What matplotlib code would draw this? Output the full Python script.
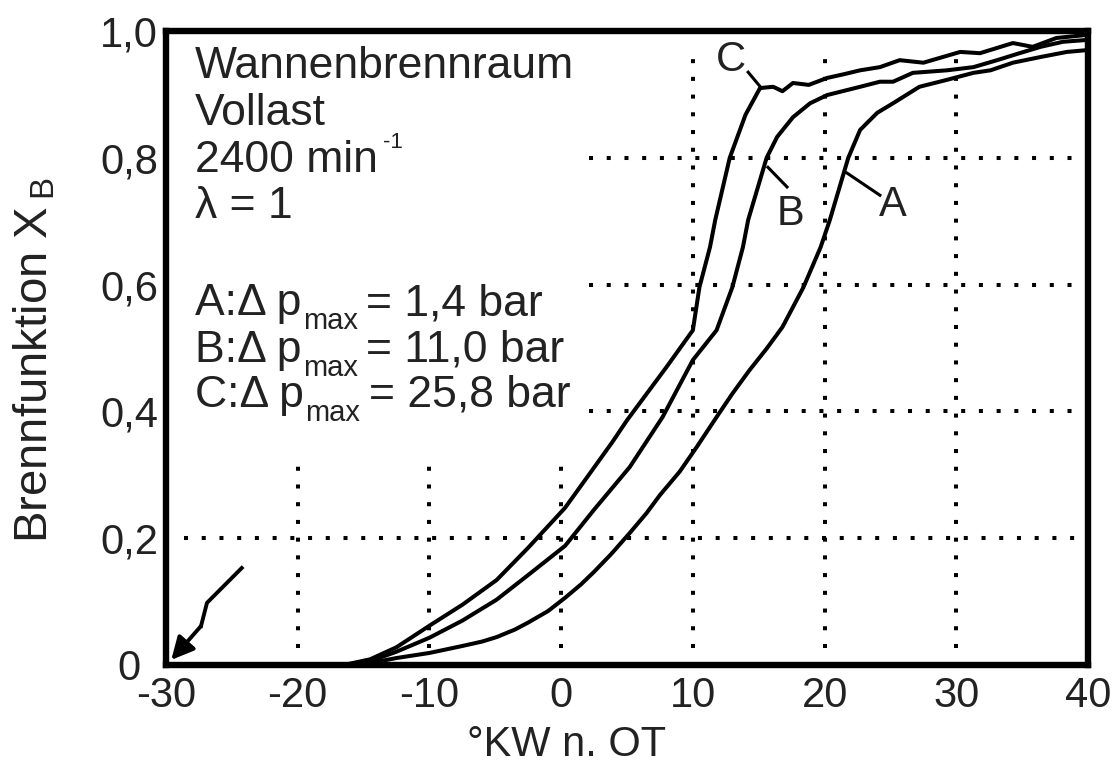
import matplotlib
matplotlib.use("Agg")
import matplotlib.pyplot as plt
from matplotlib.patches import FancyArrowPatch

# ---- data -------------------------------------------------------------
# crank angle [deg CA after TDC] and mass fraction burned for three cases
crank_A = [-16.5, -14.5, -12.5, -10.0, -7.5, -6.0, -4.9, -3.5, -2.5, -1.0,
           0.3, 1.5, 2.5, 3.8, 5.2, 6.5, 7.5, 9.0, 10.3, 11.8, 13.0, 14.3,
           15.6, 16.8, 18.4, 19.7, 20.4, 21.8, 22.7, 24.0, 25.2, 27.2, 29.3,
           31.3, 32.6, 34.3, 36.4, 38.4, 40.0]
xb_A = [0.0, 0.003, 0.011, 0.019, 0.030, 0.037, 0.044, 0.056, 0.067, 0.085,
        0.106, 0.127, 0.147, 0.175, 0.208, 0.240, 0.268, 0.305, 0.344, 0.391,
        0.428, 0.465, 0.499, 0.533, 0.596, 0.659, 0.702, 0.800, 0.844, 0.871,
        0.886, 0.912, 0.923, 0.934, 0.938, 0.950, 0.959, 0.967, 0.970]

crank_B = [-16.5, -14.5, -12.5, -10.0, -7.5, -4.9, -2.5, 0.3, 2.5, 5.2, 7.7,
           10.0, 11.8, 13.0, 13.8, 14.2, 15.6, 16.4, 17.6, 18.9, 20.2, 22.7,
           24.2, 25.2, 26.7, 29.3, 31.3, 33.1, 34.8, 36.4, 38.1, 40.0]
xb_B = [0.0, 0.006, 0.021, 0.043, 0.070, 0.103, 0.142, 0.188, 0.245, 0.312,
        0.391, 0.481, 0.528, 0.596, 0.659, 0.702, 0.800, 0.833, 0.864, 0.886,
        0.899, 0.912, 0.920, 0.920, 0.934, 0.938, 0.943, 0.954, 0.965, 0.975,
        0.983, 0.986]

crank_C = [-16.5, -14.5, -12.5, -10.0, -7.5, -4.9, -2.5, 0.3, 2.0, 3.9, 5.0,
           6.5, 8.0, 10.0, 10.5, 11.3, 11.7, 12.8, 14.0, 15.1, 16.1, 16.8,
           17.6, 18.8, 20.2, 21.5, 22.7, 24.2, 25.7, 27.5, 30.3, 31.8, 34.3,
           35.8, 37.6, 40.0]
xb_C = [0.0, 0.009, 0.028, 0.062, 0.095, 0.134, 0.185, 0.248, 0.297, 0.352,
        0.386, 0.428, 0.470, 0.528, 0.596, 0.659, 0.702, 0.800, 0.868, 0.910,
        0.912, 0.905, 0.918, 0.915, 0.926, 0.932, 0.938, 0.943, 0.954, 0.950,
        0.967, 0.965, 0.981, 0.975, 0.989, 0.994]

x_ticks = [-30, -20, -10, 0, 10, 20, 30, 40]
x_tick_labels = ["-30", "-20", "-10", "0", "10", "20", "30", "40"]
y_ticks = [0.0, 0.2, 0.4, 0.6, 0.8, 1.0]
y_tick_labels = ["0", "0,2", "0,4", "0,6", "0,8", "1,0"]

# dotted reference lines: (position, start, end)
vgrid_x = [-20, -10, 0, 10, 20, 30]
vgrid_lo = [0.027, 0.027, 0.027, 0.027, 0.027, 0.027]
vgrid_hi = [0.323, 0.323, 0.323, 0.97, 0.97, 0.97]
hgrid_y = [0.2, 0.4, 0.6, 0.8]
hgrid_lo = [-28.6, 2.1, 2.1, 2.1]
hgrid_hi = [40.0, 40.0, 40.0, 40.0]

info_lines = ["Wannenbrennraum", "Vollast", "2400 min", "λ = 1"]
speed_exponent = "-1"
case_names = ["A:Δ p", "B:Δ p", "C:Δ p"]
case_values = ["= 1,4 bar", "= 11,0 bar", "= 25,8 bar"]

# ---- style ------------------------------------------------------------
plt.rcParams["font.family"] = ["Liberation Sans", "DejaVu Sans"]
plt.rcParams["mathtext.fontset"] = "custom"
plt.rcParams["mathtext.rm"] = "Liberation Sans"
plt.rcParams["mathtext.it"] = "Liberation Sans:italic"
plt.rcParams["mathtext.default"] = "regular"

FS = 32      # text block
FS_TICK = 30
TXT = "#222222"
DPI = 100
PT = 72.0 / DPI   # points per pixel

fig = plt.figure(figsize=(11.14, 7.71), dpi=DPI)
ax = fig.add_axes([166 / 1114, 1 - 665 / 771, (1088 - 166) / 1114, (665 - 31) / 771])
ax.set_xlim(-30, 40)
ax.set_ylim(0, 1)

for s in ax.spines.values():
    s.set_linewidth(4.6)
    s.set_color("black")

ax.set_xticks(x_ticks)
ax.set_xticklabels(x_tick_labels)
ax.set_yticks(y_ticks)
ax.set_yticklabels(y_tick_labels)
ax.tick_params(axis="both", length=0, labelsize=FS_TICK, colors=TXT)
ax.tick_params(axis="x", pad=8)
ax.tick_params(axis="y", pad=26.5)
for lbl in ax.get_yticklabels():
    lbl.set_horizontalalignment("center")

dot = (0, (1, 3.4))
for xv, lo, hi in zip(vgrid_x, vgrid_lo, vgrid_hi):
    ax.plot([xv, xv], [lo, hi], color="black", lw=2.9, linestyle=dot, zorder=1)
for yv, lo, hi in zip(hgrid_y, hgrid_lo, hgrid_hi):
    ax.plot([lo, hi], [yv, yv], color="black", lw=2.9, linestyle=dot, zorder=1)

for cx, cy in ((crank_A, xb_A), (crank_B, xb_B), (crank_C, xb_C)):
    ax.plot(cx, cy, color="black", lw=2.9, solid_joinstyle="round",
            solid_capstyle="round", zorder=3)

# curve labels with leader lines
ax.text(12.9, 0.955, "C", fontsize=FS_TICK, color=TXT, ha="center", va="center")
ax.plot([14.2, 15.2], [0.935, 0.910], color="black", lw=2.2)
ax.text(17.4, 0.712, "B", fontsize=FS_TICK, color=TXT, ha="center", va="center")
ax.plot([15.7, 17.15], [0.785, 0.754], color="black", lw=2.2)
ax.text(25.2, 0.726, "A", fontsize=FS_TICK, color=TXT, ha="center", va="center")
ax.plot([21.7, 24.2], [0.776, 0.741], color="black", lw=2.2)

renderer = fig.canvas.get_renderer()
X0 = -27.8

# text block
info_y = [0.926, 0.852, 0.778, 0.705]
for txt, yb in zip(info_lines, info_y):
    t = ax.text(X0, yb, txt, fontsize=FS, color=TXT, ha="left", va="baseline")
    if txt.startswith("2400"):
        w = t.get_window_extent(renderer).width * PT
        ax.annotate(speed_exponent, xy=(X0, yb), xytext=(w + 4, 17),
                    textcoords="offset points", fontsize=16, color=TXT,
                    ha="left", va="baseline")

case_y = [0.552, 0.478, 0.407]
for name, val, yb in zip(case_names, case_values, case_y):
    t1 = ax.text(X0, yb, name, fontsize=FS, color=TXT, ha="left", va="baseline")
    w1 = t1.get_window_extent(renderer).width * PT
    t2 = ax.annotate("max", xy=(X0, yb), xytext=(w1 + 1, -10),
                     textcoords="offset points", fontsize=21, color=TXT,
                     ha="left", va="baseline")
    w2 = t2.get_window_extent(renderer).width * PT
    ax.annotate(val, xy=(X0, yb), xytext=(w1 + w2 + 7, 0),
                textcoords="offset points", fontsize=FS, color=TXT,
                ha="left", va="baseline")

# ignition marker: lightning arrow into the origin corner
ax.plot([-24.25, -26.89, -27.34], [0.153, 0.098, 0.0615], color="black",
        lw=2.8, solid_joinstyle="miter")
ax.add_patch(FancyArrowPatch((-27.34, 0.0615), (-29.6, 0.008),
                             arrowstyle="-|>", mutation_scale=34,
                             color="black", lw=2.8, shrinkA=0, shrinkB=0))

fig.text(567 / 1114, 1 - 745 / 771, "°KW n. OT", fontsize=FS_TICK, color=TXT,
         ha="center", va="center")
fig.text(35 / 1114, 1 - 360 / 771, "Brennfunktion X$\\,_{B}$", fontsize=34,
         color=TXT, ha="center", va="center", rotation=90)

fig.savefig("out.png", dpi=DPI)
